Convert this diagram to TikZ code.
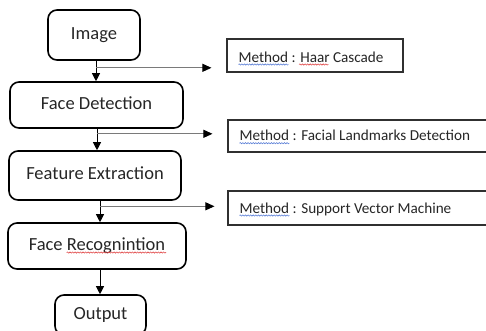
\documentclass[tikz,border=0pt]{standalone}
\usepackage{fontspec}
\setmainfont{Carlito}
\usetikzlibrary{arrows.meta,decorations.pathmorphing,calc}
\definecolor{txt}{HTML}{262626}
\definecolor{mline}{HTML}{303030}
\definecolor{bline}{HTML}{7A7A7A}
\definecolor{spblue}{HTML}{5B7FD6}
\definecolor{spred}{HTML}{E04848}

\begin{document}
\begin{tikzpicture}[x=1pt,y=-1pt,
  flowbox/.style={draw=black, line width=1.6pt, rounded corners=9pt, text=txt,
    font=\fontsize{18.5}{22}\selectfont, inner sep=0pt, text height=12pt, text depth=4pt},
  methodbox/.style={draw=mline, line width=1.1pt, inner sep=0pt},
  methodtext/.style={font=\fontsize{15.2}{18}\selectfont, text=txt, inner sep=0pt, anchor=base west},
  flow/.style={line width=1pt, -{Triangle[length=8pt,width=8pt]}},
  branch/.style={draw=bline, line width=0.9pt, -{Triangle[length=9pt,width=8pt,color=black]}},
  squig/.style={line width=0.6pt, decorate, decoration={snake, amplitude=0.6pt, segment length=2.6pt}},
]
\useasboundingbox (0,0) rectangle (486,330);
\clip (0,0) rectangle (486,330);

% main pipeline
\node[flowbox, minimum width=92pt, minimum height=50pt] (img) at (94,35) {Image};
\node[flowbox, minimum width=173pt, minimum height=46pt] (fd) at (96.5,105) {Face Detection};
\node[flowbox, minimum width=172pt, minimum height=49pt] (fe) at (95,175.5) {Feature Extraction};
\node[flowbox, minimum width=178pt, minimum height=46pt] (fr) at (97,246) {Face Recognintion};
\node[flowbox, minimum width=91pt, minimum height=40pt] (out) at (100.5,315) {Output};

% method boxes
\node[methodbox, minimum width=176pt, minimum height=33pt] (m1) at (315,55.5) {};
\node[methodbox, minimum width=267pt, minimum height=32pt] (m2) at (361.5,136) {};
\node[methodbox, minimum width=267pt, minimum height=34pt] (m3) at (361.5,208) {};
\node[methodtext] (m1t) at ($(m1.west)+(12,6.5)$) {Method : Haar Cascade};
\node[methodtext] (m2t) at ($(m2.west)+(12,4.7)$) {Method : Facial Landmarks Detection};
\node[methodtext] (m3t) at ($(m3.west)+(12,5)$) {Method : Support Vector Machine};

% spelling marks under words
\draw[squig, spblue] ($(m1t.base west)+(0,2.5)$) -- ++(50,0);
\draw[squig, spred] ($(m1t.base west)+(60.6,2.5)$) -- ++(29.3,0);
\draw[squig, spblue] ($(m2t.base west)+(0,2.5)$) -- ++(50,0);
\draw[squig, spblue] ($(m3t.base west)+(0,2.5)$) -- ++(50,0);
\draw[squig, spred] ($(fr.center)+(-30.4,6.5)$) -- ++(99.5,0);

% columns of the downward arrows
\coordinate (c1) at (96,0);
\coordinate (c2) at (97,0);
\coordinate (c3) at (100,0);
\coordinate (c4) at (100,0);

\draw[flow] (img.south -| c1) -- (fd.north -| c1);
\draw[flow] (fd.south -| c2) -- (fe.north -| c2);
\draw[flow] (fe.south -| c3) -- (fr.north -| c3);
\draw[flow] (fr.south -| c4) -- (out.north -| c4);

% side branches to the methods
\coordinate (b1) at ($(img.south -| c1)+(0,7)$);
\coordinate (b2) at ($(fd.south -| c2)+(0,5)$);
\coordinate (b3) at ($(fe.south -| c3)+(0,5.5)$);
\coordinate (e1) at ($(b1 -| m1.west)+(-15,0)$);
\coordinate (e2) at ($(b2 -| m2.west)+(-15,0)$);
\coordinate (e3) at ($(b3 -| m3.west)+(-13,0)$);
\draw[branch] (b1) -- (e1);
\draw[branch] (b2) -- (e2);
\draw[branch] (b3) -- (e3);
\end{tikzpicture}
\end{document}
